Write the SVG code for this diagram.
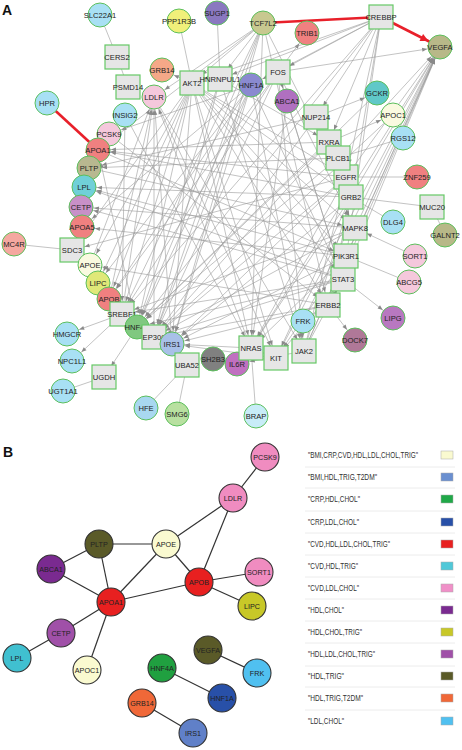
<svg xmlns="http://www.w3.org/2000/svg" width="462" height="750" viewBox="0 0 462 750">
<style>
.bg{fill:#fff}
.e{stroke:#9a9a9a;stroke-width:0.6;fill:none;marker-end:url(#ar)}
.p{stroke:#9a9a9a;stroke-width:0.6;fill:none}
.r{stroke:#e8202a;stroke-width:2.6;fill:none}
.ca{stroke:#5cbf5c;stroke-width:1}
.sq{fill:#e6e6e6;stroke:#66c866;stroke-width:1.2}
.ta{font-family:"Liberation Sans",Arial,sans-serif;font-size:7.6px;fill:#222;text-anchor:middle}
.be{stroke:#333;stroke-width:1.2}
.cb{stroke:#333;stroke-width:1.1}
.tb{font-family:"Liberation Sans",Arial,sans-serif;font-size:7.2px;fill:#222;text-anchor:middle}
.lg{font-family:"Liberation Sans",Arial,sans-serif;font-size:8.5px;fill:#333}
.sep{stroke:#ececec;stroke-width:1}
.sw{stroke:#aaa;stroke-width:0.5}
.hd{font-family:"Liberation Sans",Arial,sans-serif;font-size:14px;font-weight:bold;fill:#111}
</style>
<defs>
<marker id="ar" viewBox="0 0 20 6" refX="18" refY="3" markerWidth="20" markerHeight="6" markerUnits="userSpaceOnUse" orient="auto" overflow="visible"><path d="M0,1 L5,3 L0,5 z" fill="#8a8a8a"/></marker>
<marker id="arr" viewBox="0 0 24 10" refX="21" refY="5" markerWidth="24" markerHeight="10" markerUnits="userSpaceOnUse" orient="auto" overflow="visible"><path d="M0,1 L8,5 L0,9 z" fill="#e8202a"/></marker>
</defs>
<rect class="bg" x="0" y="0" width="462" height="750"/>
<text class="hd" x="2" y="15">A</text>
<text class="hd" x="3" y="457">B</text>

<g id="connectors-A">
<line class="p" x1="100" y1="15" x2="117" y2="57"/>
<line class="p" x1="117" y1="57" x2="128" y2="87"/>
<line class="p" x1="179" y1="21" x2="192" y2="83"/>
<line class="p" x1="217" y1="13" x2="220" y2="79"/>
<line class="p" x1="14" y1="244" x2="72" y2="250"/>
<line class="p" x1="104" y1="377" x2="63" y2="391"/>
<line class="p" x1="187" y1="365" x2="146" y2="408"/>
<line class="p" x1="187" y1="365" x2="177" y2="414"/>
<line class="p" x1="251" y1="348" x2="256" y2="416"/>
<line class="p" x1="346" y1="256" x2="409" y2="282"/>
<line class="p" x1="351" y1="197" x2="393" y2="222"/>
<line class="p" x1="351" y1="197" x2="432" y2="207"/>
<line class="p" x1="432" y1="207" x2="445" y2="235"/>
<line class="p" x1="346" y1="177" x2="417" y2="177"/>
<line class="p" x1="338" y1="158" x2="403" y2="138"/>
<line class="p" x1="303" y1="321" x2="328" y2="305"/>
<line class="p" x1="346" y1="177" x2="351" y2="197"/>
<line class="e" x1="192" y1="83" x2="162" y2="70"/>
<line class="e" x1="122" y1="314" x2="67" y2="334"/>
<line class="e" x1="122" y1="314" x2="72" y2="361"/>
<line class="e" x1="137" y1="327" x2="104" y2="377"/>
<line class="e" x1="251" y1="348" x2="172" y2="344"/>
<line class="e" x1="276" y1="358" x2="172" y2="344"/>
<line class="e" x1="328" y1="305" x2="355" y2="340"/>
<line class="e" x1="343" y1="279" x2="393" y2="318"/>
<line class="e" x1="415" y1="256" x2="355" y2="228"/>
<line class="e" x1="329" y1="142" x2="393" y2="115"/>
<line class="e" x1="316" y1="117" x2="377" y2="93"/>
<line class="e" x1="278" y1="72" x2="440" y2="47"/>
<line class="e" x1="278" y1="72" x2="307" y2="33"/>
<line class="e" x1="304" y1="351" x2="237" y2="364"/>
<line class="e" x1="381" y1="17" x2="251" y2="85"/>
<line class="e" x1="381" y1="17" x2="192" y2="83"/>
<line class="e" x1="381" y1="17" x2="220" y2="79"/>
<line class="e" x1="381" y1="17" x2="329" y2="142"/>
<line class="e" x1="381" y1="17" x2="343" y2="279"/>
<line class="e" x1="381" y1="17" x2="122" y2="314"/>
<line class="e" x1="381" y1="17" x2="137" y2="327"/>
<line class="e" x1="381" y1="17" x2="346" y2="177"/>
<line class="e" x1="381" y1="17" x2="316" y2="117"/>
<line class="e" x1="381" y1="17" x2="351" y2="197"/>
<line class="e" x1="381" y1="17" x2="278" y2="72"/>
<line class="e" x1="276" y1="358" x2="440" y2="47"/>
<line class="e" x1="251" y1="348" x2="440" y2="47"/>
<line class="e" x1="346" y1="256" x2="440" y2="47"/>
<line class="e" x1="343" y1="279" x2="440" y2="47"/>
<line class="e" x1="304" y1="351" x2="440" y2="47"/>
<line class="e" x1="346" y1="177" x2="440" y2="47"/>
<line class="e" x1="351" y1="197" x2="440" y2="47"/>
<line class="e" x1="328" y1="305" x2="440" y2="47"/>
<line class="e" x1="355" y1="228" x2="440" y2="47"/>
<line class="e" x1="303" y1="321" x2="440" y2="47"/>
<line class="e" x1="338" y1="158" x2="440" y2="47"/>
<line class="e" x1="263" y1="23" x2="192" y2="83"/>
<line class="e" x1="263" y1="23" x2="220" y2="79"/>
<line class="e" x1="263" y1="23" x2="154" y2="337"/>
<line class="e" x1="263" y1="23" x2="98" y2="150"/>
<line class="e" x1="263" y1="23" x2="154" y2="97"/>
<line class="e" x1="263" y1="23" x2="122" y2="314"/>
<line class="e" x1="263" y1="23" x2="137" y2="327"/>
<line class="e" x1="263" y1="23" x2="172" y2="344"/>
<line class="e" x1="263" y1="23" x2="251" y2="348"/>
<line class="e" x1="263" y1="23" x2="328" y2="305"/>
<line class="e" x1="263" y1="23" x2="351" y2="197"/>
<line class="e" x1="192" y1="83" x2="172" y2="344"/>
<line class="e" x1="192" y1="83" x2="346" y2="177"/>
<line class="e" x1="192" y1="83" x2="251" y2="348"/>
<line class="e" x1="192" y1="83" x2="346" y2="256"/>
<line class="e" x1="192" y1="83" x2="343" y2="279"/>
<line class="e" x1="192" y1="83" x2="328" y2="305"/>
<line class="e" x1="192" y1="83" x2="355" y2="228"/>
<line class="e" x1="192" y1="83" x2="276" y2="358"/>
<line class="e" x1="192" y1="83" x2="351" y2="197"/>
<line class="e" x1="220" y1="79" x2="154" y2="337"/>
<line class="e" x1="220" y1="79" x2="137" y2="327"/>
<line class="e" x1="220" y1="79" x2="329" y2="142"/>
<line class="e" x1="220" y1="79" x2="304" y2="351"/>
<line class="e" x1="251" y1="85" x2="137" y2="327"/>
<line class="e" x1="251" y1="85" x2="154" y2="337"/>
<line class="e" x1="251" y1="85" x2="82" y2="227"/>
<line class="e" x1="251" y1="85" x2="109" y2="134"/>
<line class="e" x1="251" y1="85" x2="98" y2="283"/>
<line class="e" x1="251" y1="85" x2="109" y2="299"/>
<line class="e" x1="251" y1="85" x2="304" y2="351"/>
<line class="e" x1="251" y1="85" x2="343" y2="279"/>
<line class="e" x1="251" y1="85" x2="172" y2="344"/>
<line class="e" x1="278" y1="72" x2="304" y2="351"/>
<line class="e" x1="278" y1="72" x2="154" y2="337"/>
<line class="e" x1="278" y1="72" x2="343" y2="279"/>
<line class="e" x1="278" y1="72" x2="355" y2="228"/>
<line class="e" x1="278" y1="72" x2="287" y2="101"/>
<line class="e" x1="278" y1="72" x2="122" y2="314"/>
<line class="e" x1="278" y1="72" x2="109" y2="299"/>
<line class="e" x1="122" y1="314" x2="154" y2="97"/>
<line class="e" x1="154" y1="337" x2="154" y2="97"/>
<line class="e" x1="109" y1="299" x2="154" y2="97"/>
<line class="e" x1="90" y1="265" x2="154" y2="97"/>
<line class="e" x1="251" y1="348" x2="154" y2="97"/>
<line class="e" x1="172" y1="344" x2="154" y2="97"/>
<line class="e" x1="329" y1="142" x2="98" y2="150"/>
<line class="e" x1="137" y1="327" x2="98" y2="150"/>
<line class="e" x1="346" y1="177" x2="98" y2="150"/>
<line class="e" x1="351" y1="197" x2="98" y2="150"/>
<line class="e" x1="338" y1="158" x2="89" y2="168"/>
<line class="e" x1="316" y1="117" x2="89" y2="168"/>
<line class="e" x1="346" y1="256" x2="84" y2="187"/>
<line class="e" x1="343" y1="279" x2="84" y2="187"/>
<line class="e" x1="351" y1="197" x2="84" y2="187"/>
<line class="e" x1="343" y1="279" x2="81" y2="207"/>
<line class="e" x1="355" y1="228" x2="81" y2="207"/>
<line class="e" x1="346" y1="256" x2="82" y2="227"/>
<line class="e" x1="328" y1="305" x2="90" y2="265"/>
<line class="e" x1="192" y1="83" x2="90" y2="265"/>
<line class="e" x1="192" y1="83" x2="98" y2="283"/>
<line class="e" x1="192" y1="83" x2="109" y2="299"/>
<line class="e" x1="192" y1="83" x2="72" y2="250"/>
<line class="e" x1="346" y1="177" x2="72" y2="250"/>
<line class="e" x1="192" y1="83" x2="122" y2="314"/>
<line class="e" x1="355" y1="228" x2="122" y2="314"/>
<line class="e" x1="343" y1="279" x2="122" y2="314"/>
<line class="e" x1="343" y1="279" x2="137" y2="327"/>
<line class="e" x1="338" y1="158" x2="137" y2="327"/>
<line class="e" x1="329" y1="142" x2="137" y2="327"/>
<line class="e" x1="192" y1="83" x2="137" y2="327"/>
<line class="e" x1="343" y1="279" x2="154" y2="337"/>
<line class="e" x1="329" y1="142" x2="154" y2="337"/>
<line class="e" x1="316" y1="117" x2="154" y2="337"/>
<line class="e" x1="328" y1="305" x2="154" y2="337"/>
<line class="e" x1="355" y1="228" x2="154" y2="337"/>
<line class="e" x1="346" y1="177" x2="154" y2="337"/>
<line class="e" x1="346" y1="256" x2="172" y2="344"/>
<line class="e" x1="351" y1="197" x2="172" y2="344"/>
<line class="e" x1="346" y1="177" x2="172" y2="344"/>
<line class="e" x1="328" y1="305" x2="172" y2="344"/>
<line class="e" x1="351" y1="197" x2="251" y2="348"/>
<line class="e" x1="346" y1="256" x2="251" y2="348"/>
<line class="e" x1="346" y1="177" x2="251" y2="348"/>
<line class="e" x1="276" y1="358" x2="251" y2="348"/>
<line class="e" x1="351" y1="197" x2="276" y2="358"/>
<line class="e" x1="346" y1="256" x2="276" y2="358"/>
<line class="e" x1="343" y1="279" x2="276" y2="358"/>
<line class="e" x1="304" y1="351" x2="343" y2="279"/>
<line class="e" x1="304" y1="351" x2="346" y2="256"/>
<line class="e" x1="304" y1="351" x2="351" y2="197"/>
<line class="e" x1="304" y1="351" x2="346" y2="177"/>
<line class="e" x1="328" y1="305" x2="351" y2="197"/>
<line class="e" x1="328" y1="305" x2="346" y2="256"/>
<line class="e" x1="328" y1="305" x2="343" y2="279"/>
<line class="e" x1="125" y1="115" x2="122" y2="314"/>
<line class="e" x1="154" y1="97" x2="304" y2="351"/>
<line class="e" x1="154" y1="97" x2="276" y2="358"/>
<line class="e" x1="125" y1="115" x2="251" y2="348"/>
<line class="e" x1="109" y1="134" x2="328" y2="305"/>
<line class="e" x1="287" y1="101" x2="251" y2="348"/>
<line class="e" x1="287" y1="101" x2="343" y2="279"/>
<line class="e" x1="377" y1="93" x2="137" y2="327"/>
<line class="e" x1="393" y1="115" x2="154" y2="337"/>
<line class="e" x1="98" y1="150" x2="346" y2="256"/>
<line class="e" x1="89" y1="168" x2="355" y2="228"/>
<line class="r" x1="47" y1="103" x2="98" y2="150"/>
<line class="r" x1="263" y1="23" x2="381" y2="17"/>
<line class="r" x1="381" y1="17" x2="440" y2="47" marker-end="url(#arr)"/>
</g>

<g id="n-SLC22A1"><circle class="ca" cx="100" cy="15" r="12" fill="#a8e0f4"/><text class="ta" x="100" y="17.7">SLC22A1</text></g>
<g id="n-PPP1R3B"><circle class="ca" cx="179" cy="21" r="12" fill="#f0f07a"/><text class="ta" x="179" y="23.7">PPP1R3B</text></g>
<g id="n-SUGP1"><circle class="ca" cx="217" cy="13" r="12" fill="#8a78c0"/><text class="ta" x="217" y="15.7">SUGP1</text></g>
<g id="n-CERS2"><rect class="sq" x="105" y="45" width="24" height="24"/><text class="ta" x="117" y="59.7">CERS2</text></g>
<g id="n-PSMD14"><rect class="sq" x="116" y="75" width="24" height="24"/><text class="ta" x="128" y="89.7">PSMD14</text></g>
<g id="n-GRB14"><circle class="ca" cx="162" cy="70" r="12" fill="#f5a888"/><text class="ta" x="162" y="72.7">GRB14</text></g>
<g id="n-AKT2"><rect class="sq" x="180" y="71" width="24" height="24"/><text class="ta" x="192" y="85.7">AKT2</text></g>
<g id="n-HNRNPUL1"><rect class="sq" x="208" y="67" width="24" height="24"/><text class="ta" x="220" y="81.7">HNRNPUL1</text></g>
<g id="n-LDLR"><circle class="ca" cx="154" cy="97" r="12" fill="#f5c8dc"/><text class="ta" x="154" y="99.7">LDLR</text></g>
<g id="n-HPR"><circle class="ca" cx="47" cy="103" r="12" fill="#a8e0f4"/><text class="ta" x="47" y="105.7">HPR</text></g>
<g id="n-INSIG2"><circle class="ca" cx="125" cy="115" r="12" fill="#a8e0f4"/><text class="ta" x="125" y="117.7">INSIG2</text></g>
<g id="n-PCSK9"><circle class="ca" cx="109" cy="134" r="12" fill="#f5c8dc"/><text class="ta" x="109" y="136.7">PCSK9</text></g>
<g id="n-APOA1"><circle class="ca" cx="98" cy="150" r="12" fill="#f08080"/><text class="ta" x="98" y="152.7">APOA1</text></g>
<g id="n-PLTP"><circle class="ca" cx="89" cy="168" r="12" fill="#b8b890"/><text class="ta" x="89" y="170.7">PLTP</text></g>
<g id="n-LPL"><circle class="ca" cx="84" cy="187" r="12" fill="#70d0d8"/><text class="ta" x="84" y="189.7">LPL</text></g>
<g id="n-CETP"><circle class="ca" cx="81" cy="207" r="12" fill="#c890c8"/><text class="ta" x="81" y="209.7">CETP</text></g>
<g id="n-APOA5"><circle class="ca" cx="82" cy="227" r="12" fill="#f08080"/><text class="ta" x="82" y="229.7">APOA5</text></g>
<g id="n-MC4R"><circle class="ca" cx="14" cy="244" r="12" fill="#f5a8a0"/><text class="ta" x="14" y="246.7">MC4R</text></g>
<g id="n-SDC3"><rect class="sq" x="60" y="238" width="24" height="24"/><text class="ta" x="72" y="252.7">SDC3</text></g>
<g id="n-APOE"><circle class="ca" cx="90" cy="265" r="12" fill="#fafae0"/><text class="ta" x="90" y="267.7">APOE</text></g>
<g id="n-LIPC"><circle class="ca" cx="98" cy="283" r="12" fill="#e0e878"/><text class="ta" x="98" y="285.7">LIPC</text></g>
<g id="n-APOB"><circle class="ca" cx="109" cy="299" r="12" fill="#f08080"/><text class="ta" x="109" y="301.7">APOB</text></g>
<g id="n-SREBF1"><rect class="sq" x="110" y="302" width="24" height="24"/><text class="ta" x="122" y="316.7">SREBF1</text></g>
<g id="n-HNF4A"><circle class="ca" cx="137" cy="327" r="12" fill="#80c880"/><text class="ta" x="137" y="329.7">HNF4A</text></g>
<g id="n-EP300"><rect class="sq" x="142" y="325" width="24" height="24"/><text class="ta" x="154" y="339.7">EP300</text></g>
<g id="n-IRS1"><circle class="ca" cx="172" cy="344" r="12" fill="#a8c0e8"/><text class="ta" x="172" y="346.7">IRS1</text></g>
<g id="n-HMGCR"><circle class="ca" cx="67" cy="334" r="12" fill="#a8e0f4"/><text class="ta" x="67" y="336.7">HMGCR</text></g>
<g id="n-NPC1L1"><circle class="ca" cx="72" cy="361" r="12" fill="#a8e0f4"/><text class="ta" x="72" y="363.7">NPC1L1</text></g>
<g id="n-UGDH"><rect class="sq" x="92" y="365" width="24" height="24"/><text class="ta" x="104" y="379.7">UGDH</text></g>
<g id="n-UGT1A1"><circle class="ca" cx="63" cy="391" r="12" fill="#a8e0f4"/><text class="ta" x="63" y="393.7">UGT1A1</text></g>
<g id="n-UBA52"><rect class="sq" x="175" y="353" width="24" height="24"/><text class="ta" x="187" y="367.7">UBA52</text></g>
<g id="n-SH2B3"><circle class="ca" cx="213" cy="359" r="12" fill="#808080" stroke="#4a8a4a"/><text class="ta" x="213" y="361.7">SH2B3</text></g>
<g id="n-IL6R"><circle class="ca" cx="237" cy="364" r="12" fill="#c070c0"/><text class="ta" x="237" y="366.7">IL6R</text></g>
<g id="n-NRAS"><rect class="sq" x="239" y="336" width="24" height="24"/><text class="ta" x="251" y="350.7">NRAS</text></g>
<g id="n-KIT"><rect class="sq" x="264" y="346" width="24" height="24"/><text class="ta" x="276" y="360.7">KIT</text></g>
<g id="n-JAK2"><rect class="sq" x="292" y="339" width="24" height="24"/><text class="ta" x="304" y="353.7">JAK2</text></g>
<g id="n-FRK"><circle class="ca" cx="303" cy="321" r="12" fill="#a8e0f4"/><text class="ta" x="303" y="323.7">FRK</text></g>
<g id="n-ERBB2"><rect class="sq" x="316" y="293" width="24" height="24"/><text class="ta" x="328" y="307.7">ERBB2</text></g>
<g id="n-DOCK7"><circle class="ca" cx="355" cy="340" r="12" fill="#b07898" stroke="#4a8a4a"/><text class="ta" x="355" y="342.7">DOCK7</text></g>
<g id="n-LIPG"><circle class="ca" cx="393" cy="318" r="12" fill="#b878c0"/><text class="ta" x="393" y="320.7">LIPG</text></g>
<g id="n-STAT3"><rect class="sq" x="331" y="267" width="24" height="24"/><text class="ta" x="343" y="281.7">STAT3</text></g>
<g id="n-PIK3R1"><rect class="sq" x="334" y="244" width="24" height="24"/><text class="ta" x="346" y="258.7">PIK3R1</text></g>
<g id="n-ABCG5"><circle class="ca" cx="409" cy="282" r="12" fill="#f5c8dc"/><text class="ta" x="409" y="284.7">ABCG5</text></g>
<g id="n-SORT1"><circle class="ca" cx="415" cy="256" r="12" fill="#f5c8dc"/><text class="ta" x="415" y="258.7">SORT1</text></g>
<g id="n-MAPK8"><rect class="sq" x="343" y="216" width="24" height="24"/><text class="ta" x="355" y="230.7">MAPK8</text></g>
<g id="n-DLG4"><circle class="ca" cx="393" cy="222" r="12" fill="#a8e0f4"/><text class="ta" x="393" y="224.7">DLG4</text></g>
<g id="n-EGFR"><rect class="sq" x="334" y="165" width="24" height="24"/><text class="ta" x="346" y="179.7">EGFR</text></g>
<g id="n-GRB2"><rect class="sq" x="339" y="185" width="24" height="24"/><text class="ta" x="351" y="199.7">GRB2</text></g>
<g id="n-MUC20"><rect class="sq" x="420" y="195" width="24" height="24"/><text class="ta" x="432" y="209.7">MUC20</text></g>
<g id="n-GALNT2"><circle class="ca" cx="445" cy="235" r="12" fill="#b8b888"/><text class="ta" x="445" y="237.7">GALNT2</text></g>
<g id="n-ZNF259"><circle class="ca" cx="417" cy="177" r="12" fill="#f08080"/><text class="ta" x="417" y="179.7">ZNF259</text></g>
<g id="n-RGS12"><circle class="ca" cx="403" cy="138" r="12" fill="#a8e0f4"/><text class="ta" x="403" y="140.7">RGS12</text></g>
<g id="n-NUP214"><rect class="sq" x="304" y="105" width="24" height="24"/><text class="ta" x="316" y="119.7">NUP214</text></g>
<g id="n-RXRA"><rect class="sq" x="317" y="130" width="24" height="24"/><text class="ta" x="329" y="144.7">RXRA</text></g>
<g id="n-PLCB1"><rect class="sq" x="326" y="146" width="24" height="24"/><text class="ta" x="338" y="160.7">PLCB1</text></g>
<g id="n-APOC1"><circle class="ca" cx="393" cy="115" r="12" fill="#fafae0"/><text class="ta" x="393" y="117.7">APOC1</text></g>
<g id="n-GCKR"><circle class="ca" cx="377" cy="93" r="12" fill="#60c8c8"/><text class="ta" x="377" y="95.7">GCKR</text></g>
<g id="n-FOS"><rect class="sq" x="266" y="60" width="24" height="24"/><text class="ta" x="278" y="74.7">FOS</text></g>
<g id="n-ABCA1"><circle class="ca" cx="287" cy="101" r="12" fill="#b070c0" stroke="#4a8a4a"/><text class="ta" x="287" y="103.7">ABCA1</text></g>
<g id="n-HNF1A"><circle class="ca" cx="251" cy="85" r="12" fill="#8a8ad0"/><text class="ta" x="251" y="87.7">HNF1A</text></g>
<g id="n-TCF7L2"><circle class="ca" cx="263" cy="23" r="12" fill="#c8c890"/><text class="ta" x="263" y="25.7">TCF7L2</text></g>
<g id="n-TRIB1"><circle class="ca" cx="307" cy="33" r="12" fill="#f08080"/><text class="ta" x="307" y="35.7">TRIB1</text></g>
<g id="n-CREBBP"><rect class="sq" x="369" y="5" width="24" height="24"/><text class="ta" x="381" y="19.7">CREBBP</text></g>
<g id="n-VEGFA"><circle class="ca" cx="440" cy="47" r="12" fill="#b8b888"/><text class="ta" x="440" y="49.7">VEGFA</text></g>
<g id="n-HFE"><circle class="ca" cx="146" cy="408" r="12" fill="#a8d8f0"/><text class="ta" x="146" y="410.7">HFE</text></g>
<g id="n-SMG6"><circle class="ca" cx="177" cy="414" r="12" fill="#b8e0a0"/><text class="ta" x="177" y="416.7">SMG6</text></g>
<g id="n-BRAP"><circle class="ca" cx="256" cy="416" r="12" fill="#c8ecf8"/><text class="ta" x="256" y="418.7">BRAP</text></g>

<g id="connectors-B">
<line class="be" x1="265" y1="457" x2="233" y2="498"/>
<line class="be" x1="233" y1="498" x2="166" y2="544"/>
<line class="be" x1="233" y1="498" x2="199" y2="582"/>
<line class="be" x1="166" y1="544" x2="99" y2="544"/>
<line class="be" x1="166" y1="544" x2="199" y2="582"/>
<line class="be" x1="166" y1="544" x2="111" y2="602"/>
<line class="be" x1="99" y1="544" x2="51" y2="569"/>
<line class="be" x1="99" y1="544" x2="111" y2="602"/>
<line class="be" x1="51" y1="569" x2="111" y2="602"/>
<line class="be" x1="111" y1="602" x2="199" y2="582"/>
<line class="be" x1="199" y1="582" x2="259" y2="572"/>
<line class="be" x1="199" y1="582" x2="252" y2="606"/>
<line class="be" x1="111" y1="602" x2="61" y2="633"/>
<line class="be" x1="61" y1="633" x2="17" y2="658"/>
<line class="be" x1="111" y1="602" x2="87" y2="670"/>
<line class="be" x1="208" y1="650" x2="257" y2="673"/>
<line class="be" x1="162" y1="668" x2="222" y2="698"/>
<line class="be" x1="142" y1="703" x2="193" y2="733"/>
</g>
<g id="b-PCSK9"><circle class="cb" cx="265" cy="457" r="14" fill="#f08cc0"/><text class="tb" x="265" y="459.6">PCSK9</text></g>
<g id="b-LDLR"><circle class="cb" cx="233" cy="498" r="14" fill="#f08cc0"/><text class="tb" x="233" y="500.6">LDLR</text></g>
<g id="b-APOE"><circle class="cb" cx="166" cy="544" r="14" fill="#fafad0"/><text class="tb" x="166" y="546.6">APOE</text></g>
<g id="b-PLTP"><circle class="cb" cx="99" cy="544" r="14" fill="#5a5a28"/><text class="tb" x="99" y="546.6">PLTP</text></g>
<g id="b-ABCA1"><circle class="cb" cx="51" cy="569" r="14" fill="#7a2a90"/><text class="tb" x="51" y="571.6">ABCA1</text></g>
<g id="b-APOB"><circle class="cb" cx="199" cy="582" r="14" fill="#e82020"/><text class="tb" x="199" y="584.6">APOB</text></g>
<g id="b-SORT1"><circle class="cb" cx="259" cy="572" r="14" fill="#f08cc0"/><text class="tb" x="259" y="574.6">SORT1</text></g>
<g id="b-LIPC"><circle class="cb" cx="252" cy="606" r="14" fill="#c8c828"/><text class="tb" x="252" y="608.6">LIPC</text></g>
<g id="b-APOA1"><circle class="cb" cx="111" cy="602" r="14" fill="#e82020"/><text class="tb" x="111" y="604.6">APOA1</text></g>
<g id="b-CETP"><circle class="cb" cx="61" cy="633" r="14" fill="#a050a8"/><text class="tb" x="61" y="635.6">CETP</text></g>
<g id="b-LPL"><circle class="cb" cx="17" cy="658" r="14" fill="#40c0d0"/><text class="tb" x="17" y="660.6">LPL</text></g>
<g id="b-APOC1"><circle class="cb" cx="87" cy="670" r="14" fill="#fafad0"/><text class="tb" x="87" y="672.6">APOC1</text></g>
<g id="b-VEGFA"><circle class="cb" cx="208" cy="650" r="14" fill="#5a5a28"/><text class="tb" x="208" y="652.6">VEGFA</text></g>
<g id="b-FRK"><circle class="cb" cx="257" cy="673" r="14" fill="#50c0f0"/><text class="tb" x="257" y="675.6">FRK</text></g>
<g id="b-HNF4A"><circle class="cb" cx="162" cy="668" r="14" fill="#20a040"/><text class="tb" x="162" y="670.6">HNF4A</text></g>
<g id="b-HNF1A"><circle class="cb" cx="222" cy="698" r="14" fill="#2850a8"/><text class="tb" x="222" y="700.6">HNF1A</text></g>
<g id="b-GRB14"><circle class="cb" cx="142" cy="703" r="14" fill="#f06838"/><text class="tb" x="142" y="705.6">GRB14</text></g>
<g id="b-IRS1"><circle class="cb" cx="193" cy="733" r="14" fill="#6080c8"/><text class="tb" x="193" y="735.6">IRS1</text></g>

<g id="legend">
<line class="sep" x1="305" y1="467" x2="455" y2="467"/>
<line class="sep" x1="305" y1="488" x2="455" y2="488"/>
<line class="sep" x1="305" y1="511" x2="455" y2="511"/>
<line class="sep" x1="305" y1="533" x2="455" y2="533"/>
<line class="sep" x1="305" y1="555" x2="455" y2="555"/>
<line class="sep" x1="305" y1="577" x2="455" y2="577"/>
<line class="sep" x1="305" y1="599" x2="455" y2="599"/>
<line class="sep" x1="305" y1="621" x2="455" y2="621"/>
<line class="sep" x1="305" y1="643" x2="455" y2="643"/>
<line class="sep" x1="305" y1="666" x2="455" y2="666"/>
<line class="sep" x1="305" y1="687" x2="455" y2="687"/>
<line class="sep" x1="305" y1="710" x2="455" y2="710"/>
<text class="lg" x="308" y="458" textLength="110" lengthAdjust="spacingAndGlyphs">"BMI,CRP,CVD,HDL,LDL,CHOL,TRIG"</text>
<text class="lg" x="308" y="480" textLength="69" lengthAdjust="spacingAndGlyphs">"BMI,HDL,TRIG,T2DM"</text>
<text class="lg" x="308" y="502" textLength="52" lengthAdjust="spacingAndGlyphs">"CRP,HDL,CHOL"</text>
<text class="lg" x="308" y="525" textLength="51" lengthAdjust="spacingAndGlyphs">"CRP,LDL,CHOL"</text>
<text class="lg" x="308" y="547" textLength="82" lengthAdjust="spacingAndGlyphs">"CVD,HDL,LDL,CHOL,TRIG"</text>
<text class="lg" x="308" y="569" textLength="50" lengthAdjust="spacingAndGlyphs">"CVD,HDL,TRIG"</text>
<text class="lg" x="308" y="591" textLength="51" lengthAdjust="spacingAndGlyphs">"CVD,LDL,CHOL"</text>
<text class="lg" x="308" y="613" textLength="36" lengthAdjust="spacingAndGlyphs">"HDL,CHOL"</text>
<text class="lg" x="308" y="635" textLength="54" lengthAdjust="spacingAndGlyphs">"HDL,CHOL,TRIG"</text>
<text class="lg" x="308" y="657" textLength="67" lengthAdjust="spacingAndGlyphs">"HDL,LDL,CHOL,TRIG"</text>
<text class="lg" x="308" y="679" textLength="36" lengthAdjust="spacingAndGlyphs">"HDL,TRIG"</text>
<text class="lg" x="308" y="701" textLength="55" lengthAdjust="spacingAndGlyphs">"HDL,TRIG,T2DM"</text>
<text class="lg" x="308" y="724" textLength="36" lengthAdjust="spacingAndGlyphs">"LDL,CHOL"</text>
<rect class="sw" x="441" y="451" width="12" height="8" fill="#fafad0"/>
<rect class="sw" x="441" y="473" width="12" height="8" fill="#6a8fd0"/>
<rect class="sw" x="441" y="495" width="12" height="8" fill="#20a848"/>
<rect class="sw" x="441" y="518" width="12" height="8" fill="#2850a8"/>
<rect class="sw" x="441" y="540" width="12" height="8" fill="#e82020"/>
<rect class="sw" x="441" y="562" width="12" height="8" fill="#50c8d8"/>
<rect class="sw" x="441" y="584" width="12" height="8" fill="#f090c8"/>
<rect class="sw" x="441" y="606" width="12" height="8" fill="#7a2a90"/>
<rect class="sw" x="441" y="628" width="12" height="8" fill="#c8c828"/>
<rect class="sw" x="441" y="650" width="12" height="8" fill="#a050a8"/>
<rect class="sw" x="441" y="672" width="12" height="8" fill="#5a5a28"/>
<rect class="sw" x="441" y="694" width="12" height="8" fill="#f06838"/>
<rect class="sw" x="441" y="717" width="12" height="8" fill="#50c0f0"/>
</g>
</svg>
